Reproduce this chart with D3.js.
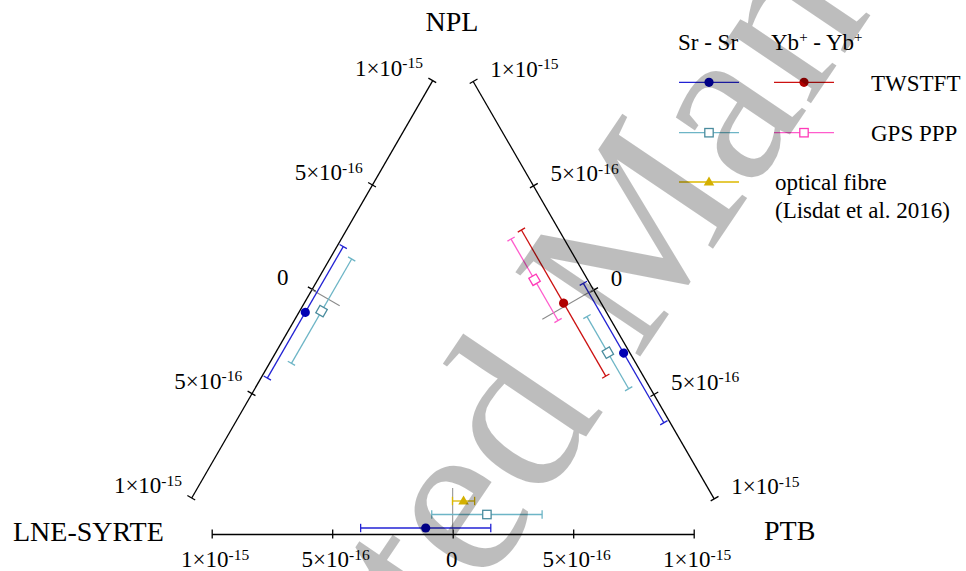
<!DOCTYPE html>
<html>
<head>
<meta charset="utf-8">
<script src="https://cdn.jsdelivr.net/npm/d3@7"></script>
<style>
  body { margin: 0; background: #fff; }
  svg { display: block; }
</style>
</head>
<body>
<div id="chart"></div>
<script>
//-----------------------------DATA------------------------------//
// fractional frequency differences, in units of 1e-16
// side order: NPL - LNE-SYRTE (left), NPL - PTB (right), LNE-SYRTE - PTB (bottom)
var stations = ["NPL", "LNE-SYRTE", "PTB"];
var tickValues = [-10, -5, 0, 5, 10];

var srTwVal = [-0.95, 2.90, -1.12];
var srTwErr = [3.15, 3.34, 2.70];
var srGpsVal = [-0.57, 2.56, 1.42];
var srGpsErr = [2.50, 1.73, 2.29];
var ybTwVal = [null, -0.14, null];
var ybTwErr = [null, 3.50, null];
var ybGpsVal = [null, -1.58, null];
var ybGpsErr = [null, 1.95, null];
var fibreVal = [null, null, 0.45];
var fibreErr = [null, null, 0.46];

var series = [
  {name: "Sr TWSTFT", val: srTwVal, err: srTwErr, slot: 0, line: "#2222d4", mark: "#0000b4", shape: "circle"},
  {name: "Sr GPS PPP", val: srGpsVal, err: srGpsErr, slot: 1, line: "#6db5c6", mark: "#4a8c9e", shape: "square"},
  {name: "Yb TWSTFT", val: ybTwVal, err: ybTwErr, slot: 2, line: "#cc1111", mark: "#b00000", shape: "circle"},
  {name: "Yb GPS PPP", val: ybGpsVal, err: ybGpsErr, slot: 3, line: "#ff5ccc", mark: "#ff3ab8", shape: "square"},
  {name: "optical fibre", val: fibreVal, err: fibreErr, slot: 2, line: "#dcb800", mark: "#d4b000", shape: "triangle"}
];

//----------------------------LAYOUT-----------------------------//
var width = 966, height = 571;
var svg = d3.select("#chart").append("svg")
    .attr("width", width)
    .attr("height", height)
    .attr("font-family", "'Liberation Serif', 'DejaVu Serif', serif");

var x = d3.scaleLinear().domain([-10, 10]).range([-241, 241]);

var centre = [452.7, 371], inr = 163;
var sides = [
  {ang: -60, nx: -Math.sqrt(3) / 2, ny: -0.5, inward: 1, anchor: "end", ldx: -9, ldy: -5},
  {ang: 60, nx: Math.sqrt(3) / 2, ny: -0.5, inward: 1, anchor: "start", ldx: 17, ldy: -4},
  {ang: 0, nx: 0, ny: 1, inward: -1, anchor: "middle", ldx: 3.5, ldy: 33}
];
sides.forEach(function (s) {
  s.mx = centre[0] + inr * s.nx;
  s.my = centre[1] + inr * s.ny;
});

function toScreen(s, lx, ly) {
  var a = s.ang * Math.PI / 180;
  return [s.mx + lx * Math.cos(a) - ly * Math.sin(a),
          s.my + lx * Math.sin(a) + ly * Math.cos(a)];
}
function slotOffset(slot) { return 6 + 13.5 * slot; }

function fmtTick(v) {
  if (v === 0) return {m: "0", e: null};
  var a = Math.abs(v) * 1e-16;
  var e = Math.floor(Math.log10(a) + 1e-9);
  var m = Math.round(a / Math.pow(10, e));
  return {m: m + "\u00d710", e: String(e)};
}

function drawMarker(g, shape, cx, cy, color) {
  if (shape === "circle") {
    g.append("circle").attr("cx", cx).attr("cy", cy).attr("r", 4.6).attr("fill", color);
  } else if (shape === "square") {
    g.append("rect").attr("x", cx - 4.2).attr("y", cy - 4.2).attr("width", 8.4).attr("height", 8.4)
      .attr("fill", "#fff").attr("stroke", color).attr("stroke-width", 1.3);
  } else {
    g.append("path").attr("d", d3.symbol(d3.symbolTriangle).size(48)())
      .attr("transform", "translate(" + cx + "," + (cy + 0.5) + ")").attr("fill", color);
  }
}

//-----------------------------AXES------------------------------//
sides.forEach(function (s, i) {
  var g = svg.append("g")
      .attr("transform", "translate(" + s.mx + "," + s.my + ") rotate(" + s.ang + ")");

  g.call(d3.axisBottom(x).tickValues(tickValues).tickSize(4.5).tickSizeOuter(0).tickFormat(""));
  g.select(".domain").attr("stroke", "#000").attr("stroke-width", 1.3);
  g.selectAll(".tick line").attr("y1", -4.5).attr("stroke", "#000").attr("stroke-width", 1.3);
  g.selectAll(".tick text").remove();

  // zero reference line, perpendicular to the side
  var present = series.filter(function (d) { return d.val[i] !== null; });
  var maxSlot = d3.max(present, function (d) { return d.slot; });
  g.append("line")
      .attr("x1", x(0)).attr("x2", x(0))
      .attr("y1", 0).attr("y2", s.inward * (slotOffset(maxSlot) + 13))
      .attr("stroke", "#8a8a8a").attr("stroke-width", 1);

  // error bars + markers
  present.forEach(function (d) {
    var y = s.inward * slotOffset(d.slot);
    var lo = x(d.val[i] - d.err[i]), hi = x(d.val[i] + d.err[i]);
    var eb = g.append("g").attr("stroke", d.line).attr("stroke-width", 1.3);
    eb.append("line").attr("x1", lo).attr("x2", hi).attr("y1", y).attr("y2", y);
    eb.append("line").attr("x1", lo).attr("x2", lo).attr("y1", y - 4.2).attr("y2", y + 4.2);
    eb.append("line").attr("x1", hi).attr("x2", hi).attr("y1", y - 4.2).attr("y2", y + 4.2);
    drawMarker(g, d.shape, x(d.val[i]), y, d.mark);
  });

  // horizontal tick labels
  tickValues.forEach(function (v) {
    var p = toScreen(s, x(v), 0);
    var f = fmtTick(v);
    var dx = s.ldx;
    if (v === 0) dx = (i === 0) ? -23 : (i === 2 ? -1 : s.ldx);
    var t = svg.append("text")
        .attr("x", p[0] + dx)
        .attr("y", i === 2 ? s.my + s.ldy : p[1] + s.ldy)
        .attr("text-anchor", s.anchor)
        .style("font-size", "23px");
    t.append("tspan").text(f.m);
    if (f.e) t.append("tspan").attr("dy", -7.5).style("font-size", "15.5px").text(f.e);
  });
});

//---------------------------STATIONS----------------------------//
var stationPos = [[452, 31, "middle"], [13, 541, "start"], [764, 540, "start"]];
stations.forEach(function (name, i) {
  svg.append("text")
      .attr("x", stationPos[i][0]).attr("y", stationPos[i][1])
      .attr("text-anchor", stationPos[i][2])
      .style("font-size", "28px")
      .text(name);
});

//----------------------------LEGEND-----------------------------//
var legX = [679, 774], legY = [82.3, 132.7, 182];
var legCells = [[0, 0, 0], [1, 0, 1], [2, 1, 0], [3, 1, 1], [4, 0, 2]]; // series, column, row
var leg = svg.append("g");
legCells.forEach(function (c) {
  var d = series[c[0]], x0 = legX[c[1]], y0 = legY[c[2]];
  leg.append("line").attr("x1", x0).attr("x2", x0 + 60).attr("y1", y0).attr("y2", y0)
      .attr("stroke", d.line).attr("stroke-width", 1.3);
  drawMarker(leg, d.shape, x0 + 30, y0, d.mark);
});

leg.append("text").attr("x", 678).attr("y", 50).style("font-size", "23px").text("Sr - Sr");
var h2 = leg.append("text").attr("x", 771).attr("y", 50).style("font-size", "23px");
h2.append("tspan").text("Yb");
h2.append("tspan").attr("dy", -8).style("font-size", "15px").text("+");
h2.append("tspan").attr("dy", 8).text(" - Yb");
h2.append("tspan").attr("dy", -8).style("font-size", "15px").text("+");

leg.append("text").attr("x", 871).attr("y", 91).style("font-size", "23px").text("TWSTFT");
leg.append("text").attr("x", 871).attr("y", 141).style("font-size", "23px").text("GPS PPP");
leg.append("text").attr("x", 775).attr("y", 190).style("font-size", "23px").text("optical fibre");
leg.append("text").attr("x", 775).attr("y", 218).style("font-size", "23px").text("(Lisdat et al. 2016)");

//---------------------------WATERMARK---------------------------//
var wm = svg.append("text")
    .attr("x", 0).attr("y", 0)
    .style("font-size", "230px")
    .style("fill", "#000")
    .style("fill-opacity", 0.26)
    .text("Edited Manually");
var dStart = wm.node().getStartPositionOfChar(5);
wm.attr("transform", "translate(540,505) rotate(-56) translate(" + (-dStart.x) + ",0)");
</script>
</body>
</html>
